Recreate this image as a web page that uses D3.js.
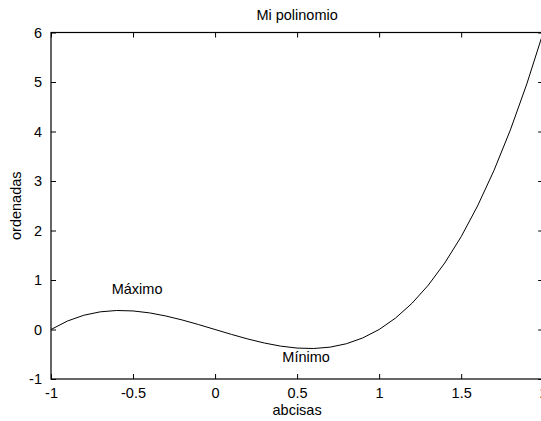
<!DOCTYPE html>
<html><head><meta charset="utf-8">
<script src="https://cdn.jsdelivr.net/npm/d3@7"></script>
<style>body{margin:0;background:#fff;overflow:hidden}svg{display:block}text{font-family:"Liberation Sans",Arial,sans-serif;fill:#000}</style>
</head><body>
<script>
const xValues = [-1,-0.9,-0.8,-0.7,-0.6,-0.5,-0.4,-0.3,-0.2,-0.1,0,0.1,0.2,0.3,0.4,0.5,0.6,0.7,0.8,0.9,1,1.1,1.2,1.3,1.4,1.5,1.6,1.7,1.8,1.9,2];
const yValues = [0,0.171,0.288,0.357,0.384,0.375,0.336,0.273,0.192,0.099,0,-0.099,-0.192,-0.273,-0.336,-0.375,-0.384,-0.357,-0.288,-0.171,0,0.231,0.528,0.897,1.344,1.875,2.496,3.213,4.032,4.959,6];
const xTicks = [-1,-0.5,0,0.5,1,1.5,2];
const yTicks = [-1,0,1,2,3,4,5,6];
const annLabels = ["Máximo","Mínimo"];
const annX = [-0.63,0.41];
const annY = [0.82,-0.55];
const title = "Mi polinomio", xLabel = "abcisas", yLabel = "ordenadas";

const W = 541, H = 421;
const L = 51, R = 543.2, T = 32.5, B = 379;
const fs = 14.5;
const svg = d3.select("body").append("svg").attr("width", W).attr("height", H);
const x = d3.scaleLinear().domain([-1,2]).range([L,R]);
const y = d3.scaleLinear().domain([-1,6]).range([B,T]);
const tl = 5;

// box
svg.append("rect").attr("x",L).attr("y",T).attr("width",R-L).attr("height",B-T)
  .attr("fill","none").attr("stroke","#000").attr("stroke-width",1.2);

// axes via d3 with inward ticks
const fmt = d => String(d);
const gB = svg.append("g").attr("transform",`translate(0,${B})`)
  .call(d3.axisBottom(x).tickValues(xTicks).tickSize(-tl).tickPadding(9).tickFormat(fmt));
const gT = svg.append("g").attr("transform",`translate(0,${T})`)
  .call(d3.axisTop(x).tickValues(xTicks).tickSize(-tl).tickFormat(""));
const gL = svg.append("g").attr("transform",`translate(${L},0)`)
  .call(d3.axisLeft(y).tickValues(yTicks).tickSize(-tl).tickPadding(9).tickFormat(fmt));
const gR = svg.append("g").attr("transform",`translate(${R},0)`)
  .call(d3.axisRight(y).tickValues(yTicks).tickSize(-tl).tickFormat(""));
[gB,gT,gL,gR].forEach(g=>{
  g.select(".domain").remove();
  g.selectAll("line").attr("stroke","#000");
  g.selectAll("text").style("font-size",fs+"px").attr("font-family","Liberation Sans, Arial, sans-serif").attr("fill","#000");
});
gB.selectAll("text").attr("dy","0.71em");

// curve
const pts = xValues.map((v,i)=>[v,yValues[i]]);
svg.append("path").datum(pts)
  .attr("d", d3.line().x(d=>x(d[0])).y(d=>y(d[1])))
  .attr("fill","none").attr("stroke","#000").attr("stroke-width",1);

// annotations
annLabels.forEach((t,i)=>{
  svg.append("text").attr("x",x(annX[i])).attr("y",y(annY[i])).attr("dy","0.35em")
    .style("font-size",fs+"px").text(t);
});

// titles
svg.append("text").attr("x",(L+R)/2).attr("y",20).attr("text-anchor","middle").style("font-size",fs+"px").text(title);
svg.append("text").attr("x",(L+R)/2).attr("y",415).attr("text-anchor","middle").style("font-size",fs+"px").text(xLabel);
svg.append("text").attr("transform",`translate(21,${(T+B)/2}) rotate(-90)`).attr("text-anchor","middle").style("font-size",fs+"px").text(yLabel);
</script>
</body></html>
